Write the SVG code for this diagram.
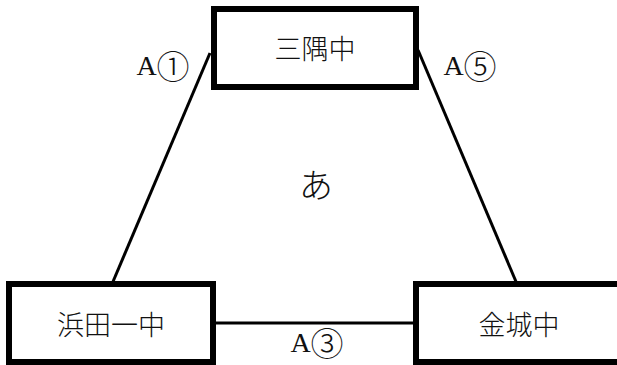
<svg xmlns="http://www.w3.org/2000/svg" width="617" height="365" viewBox="0 0 617 365">
<style>
.box{fill:#fff;stroke:#000;stroke-width:6}
.edge{stroke:#000;stroke-width:3;fill:none}
.name{font-family:"Noto Sans CJK JP","Noto Sans CJK SC",sans-serif;font-size:27px;font-weight:300;fill:#111;text-anchor:middle;dominant-baseline:central}
.lbl{font-family:"Liberation Serif","Noto Sans CJK JP",serif;font-size:28px;fill:#111;text-anchor:middle;dominant-baseline:central}
.num{font-family:"Noto Sans CJK JP",sans-serif;font-size:33px;font-weight:300}
</style>
<rect width="617" height="365" fill="#fff"/>
<g id="connectors">
<line class="edge" x1="210" y1="53" x2="112" y2="284"/>
<line class="edge" x1="418" y1="50" x2="517" y2="284"/>
<line class="edge" x1="213" y1="323" x2="416" y2="323"/>
<text class="lbl" x="163" y="65">A<tspan class="num">①</tspan></text>
<text class="lbl" x="470" y="65">A<tspan class="num">⑤</tspan></text>
<text class="lbl" x="317" y="342">A<tspan class="num">③</tspan></text>
</g>
<g id="node-misumi">
<rect class="box" x="214" y="9" width="202" height="78"/>
<text class="name" x="315" y="47">三隅中</text>
</g>
<g id="node-hamada">
<rect class="box" x="9" y="284" width="204" height="78"/>
<text class="name" x="111" y="323">浜田一中</text>
</g>
<g id="node-kanagi">
<rect class="box" x="416" y="284" width="220" height="78"/>
<text class="name" x="519" y="323">金城中</text>
</g>
<g id="area-label">
<text class="name" x="316" y="183" style="font-size:34px">あ</text>
</g>
</svg>
